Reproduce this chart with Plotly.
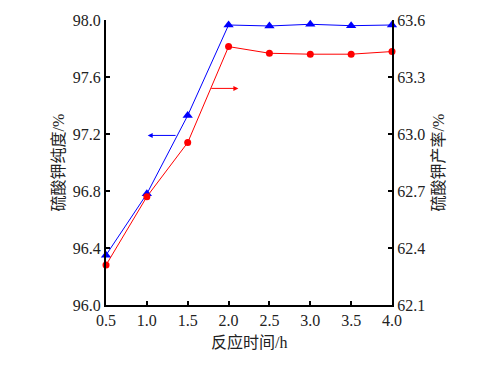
import plotly.graph_objects as go

time_h = [0.5, 1.0, 1.5, 2.0, 2.5, 3.0, 3.5, 4.0]
purity = [96.35, 96.78, 97.33, 97.965, 97.958, 97.97, 97.96, 97.965]
yield_pct = [62.31, 62.67, 62.955, 63.46, 63.425, 63.42, 63.42, 63.434]

x_ticks = [0.5, 1.0, 1.5, 2.0, 2.5, 3.0, 3.5, 4.0]
y1_ticks = [96.0, 96.4, 96.8, 97.2, 97.6, 98.0]
y2_ticks = [62.1, 62.4, 62.7, 63.0, 63.3, 63.6]

x_title = "反应时间/h"
y1_title = "硫酸钾纯度/%"
y2_title = "硫酸钾产率/%"

FONT = '"Liberation Serif", "Noto Sans CJK SC", serif'
TFONT = dict(family=FONT, size=16, color="#222")

fig = go.Figure()
fig.add_trace(go.Scatter(x=time_h, y=purity, mode="lines+markers",
                         line=dict(color="#0000ff", width=1),
                         marker=dict(symbol="triangle-up", size=9, color="#0000ff"),
                         cliponaxis=False, yaxis="y"))
fig.add_trace(go.Scatter(x=time_h, y=yield_pct, mode="lines+markers",
                         line=dict(color="#ff0000", width=1),
                         marker=dict(symbol="circle", size=7, color="#ff0000"),
                         cliponaxis=False, yaxis="y2"))

axis_common = dict(showline=True, linecolor="black", linewidth=2, ticks="inside",
                   ticklen=4, tickwidth=1.5, tickcolor="black", showgrid=False,
                   zeroline=False, automargin=False,
                   tickfont=dict(family=FONT, size=16, color="#222"))

fig.update_layout(
    width=469, height=357, margin=dict(l=98, r=85, t=12, b=60),
    plot_bgcolor="white", paper_bgcolor="white", showlegend=False,
    xaxis=dict(range=[0.5, 4.0], tickvals=x_ticks, ticktext=[f"{v:.1f}" for v in x_ticks],
               **axis_common),
    yaxis=dict(range=[96.0, 98.0], tickvals=y1_ticks, ticktext=[f"{v:.1f}" for v in y1_ticks],
               **axis_common),
    yaxis2=dict(range=[62.1, 63.6], tickvals=y2_ticks, ticktext=[f"{v:.1f}" for v in y2_ticks],
                overlaying="y", side="right", **axis_common),
)

fig.add_annotation(text=x_title, xref="paper", yref="paper", x=0.5, y=0, yshift=-37,
                   xanchor="center", yanchor="middle", showarrow=False, font=TFONT)
fig.add_annotation(text=y1_title, xref="paper", yref="paper", x=0, y=0.5, xshift=-48,
                   xanchor="center", yanchor="middle", textangle=-90, showarrow=False, font=TFONT)
fig.add_annotation(text=y2_title, xref="paper", yref="paper", x=1, y=0.5, xshift=46,
                   xanchor="center", yanchor="middle", textangle=-90, showarrow=False, font=TFONT)

fig.add_annotation(x=1.01, y=97.19, xref="x", yref="y", ax=1.37, ay=97.19, axref="x", ayref="y",
                   showarrow=True, arrowhead=2, arrowsize=1, arrowwidth=1, arrowcolor="#0000ff", text="")
fig.add_annotation(x=2.12, y=63.24, xref="x", yref="y2", ax=1.77, ay=63.24, axref="x", ayref="y2",
                   showarrow=True, arrowhead=2, arrowsize=1, arrowwidth=1, arrowcolor="#ff0000", text="")

fig.write_html("out.html")
